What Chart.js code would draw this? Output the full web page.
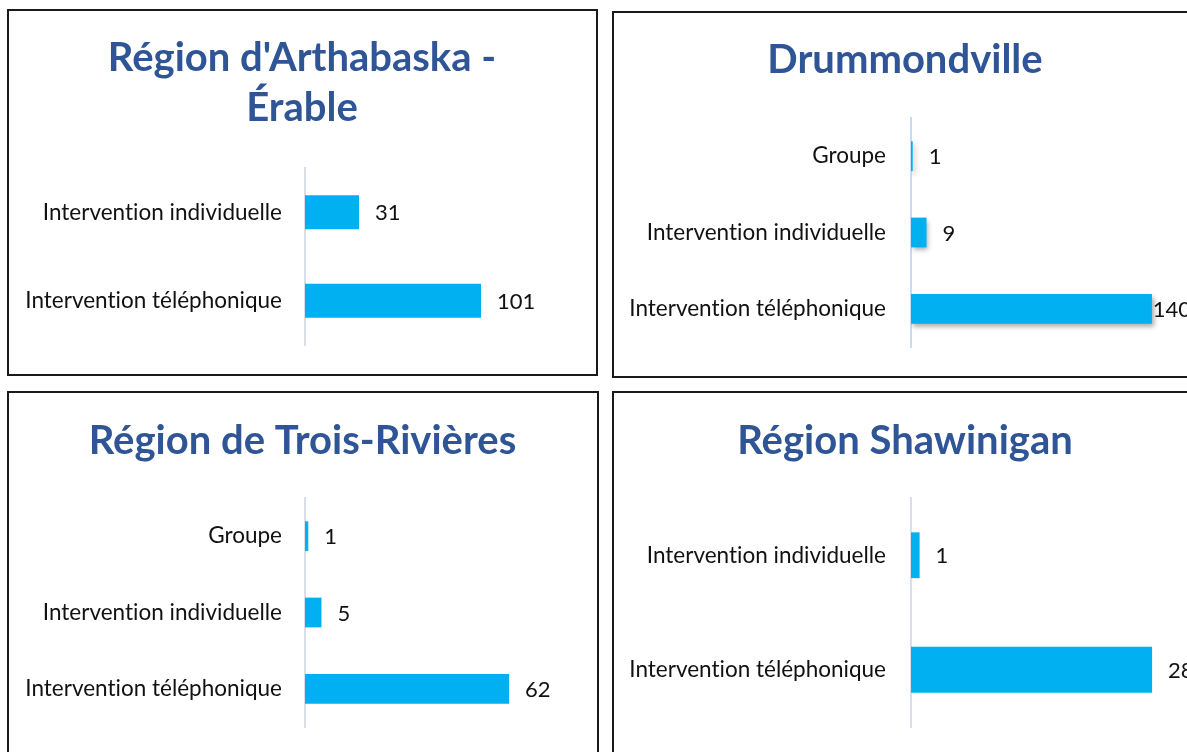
<!DOCTYPE html>
<html><head><meta charset="utf-8">
<script src="https://cdn.jsdelivr.net/npm/chart.js@4.4.1/dist/chart.umd.min.js"></script>
<style>
html,body{margin:0;padding:0;background:#fff;width:1187px;height:752px;overflow:hidden;position:relative}
.box{position:absolute;border:2px solid #1a1a1a;box-sizing:border-box;pointer-events:none}
.wrap{position:absolute}
</style></head><body>
<div class="wrap" style="left:9px;top:11px;width:586px;height:400px"><canvas id="c1"></canvas></div>
<div class="wrap" style="left:614px;top:13px;width:582px;height:400px"><canvas id="c2"></canvas></div>
<div class="wrap" style="left:9px;top:393px;width:587px;height:400px"><canvas id="c3"></canvas></div>
<div class="wrap" style="left:614px;top:393px;width:582px;height:400px"><canvas id="c4"></canvas></div>
<div class="box" style="left:7px;top:9px;width:591px;height:367px"></div>
<div class="box" style="left:612px;top:11px;width:600px;height:367px"></div>
<div class="box" style="left:7px;top:391px;width:592px;height:400px"></div>
<div class="box" style="left:612px;top:391px;width:600px;height:400px"></div>
<script>
// ---- data ----
const titleArthabaska = ["Région d'Arthabaska -", "Érable"];
const catsArthabaska = ["Intervention individuelle", "Intervention téléphonique"];
const valsArthabaska = [31, 101];

const titleDrummond = "Drummondville";
const catsDrummond = ["Groupe", "Intervention individuelle", "Intervention téléphonique"];
const valsDrummond = [1, 9, 140];

const titleTrois = "Région de Trois-Rivières";
const catsTrois = ["Groupe", "Intervention individuelle", "Intervention téléphonique"];
const valsTrois = [1, 5, 62];

const titleShawi = "Région Shawinigan";
const catsShawi = ["Intervention individuelle", "Intervention téléphonique"];
const valsShawi = [1, 28];

const BAR = '#00B0F0', TITLE = '#2F5597';
const FONT = "Lato, 'Open Sans', sans-serif";

const noLig = {
  id: 'noLig',
  beforeDraw(chart) { try { chart.ctx.textRendering = 'optimizeSpeed'; } catch (e) {} }
};
const barShadow = {
  id: 'barShadow',
  beforeDatasetsDraw(chart, args, opts) {
    if (!opts.on) return;
    const c = chart.ctx;
    c.save();
    c.shadowColor = 'rgba(0,0,0,0.35)';
    c.shadowBlur = 5;
    c.shadowOffsetX = 2;
    c.shadowOffsetY = 3;
  },
  afterDatasetsDraw(chart, args, opts) {
    if (!opts.on) return;
    chart.ctx.restore();
  }
};
const valueLabels = {
  id: 'valueLabels',
  afterDatasetsDraw(chart, args, opts) {
    const ctx = chart.ctx;
    const meta = chart.getDatasetMeta(0);
    ctx.save();
    ctx.font = `${opts.size}px ${FONT}`;
    ctx.fillStyle = '#111';
    ctx.textBaseline = 'middle';
    ctx.textAlign = 'left';
    meta.data.forEach((bar, i) => {
      const txt = String(chart.data.datasets[0].data[i]);
      let x = bar.x + opts.gap;
      if (opts.clampRight) x = Math.min(x, opts.clampRight - ctx.measureText(txt).width);
      ctx.fillText(txt, x, bar.y + 1);
    });
    ctx.restore();
  }
};

function make(id, title, cats, vals, cfg) {
  return new Chart(document.getElementById(id), {
    type: 'bar',
    data: { labels: cats, datasets: [{ data: vals, backgroundColor: BAR,
      barPercentage: cfg.barPct, categoryPercentage: 1 }] },
    plugins: [noLig, barShadow, valueLabels],
    options: {
      indexAxis: 'y', responsive: true, maintainAspectRatio: false, animation: false,
      layout: { padding: { left: 0, top: 0, right: 0, bottom: cfg.padBottom } },
      plugins: {
        legend: { display: false }, tooltip: { enabled: false },
        title: { display: true, text: title, color: TITLE,
          font: { family: FONT, size: 40, weight: 'bold', lineHeight: 50/40 },
          padding: { top: cfg.tTop, bottom: cfg.tBottom } },
        valueLabels: { size: 22, gap: 16, clampRight: cfg.clampRight || 0 },
        barShadow: { on: !!cfg.shadow }
      },
      scales: {
        x: { display: false, min: 0, max: cfg.max },
        y: {
          afterFit(s) { s.width = cfg.axisW; },
          grid: { display: false, drawTicks: false },
          border: { display: true, color: cfg.axisColor, width: 2 },
          ticks: { color: '#111', padding: cfg.tickPad, font: { family: FONT, size: 22.5 } }
        }
      }
    }
  });
}

make('c1', titleArthabaska, catsArthabaska, valsArthabaska,
  { barPct: 0.384, padBottom: 66, tTop: 22, tBottom: 35, max: 166.4, axisW: 296, tickPad: 23, axisColor: '#D9DEE8' });
make('c2', titleDrummond, catsDrummond, valsDrummond,
  { barPct: 0.39, padBottom: 66, tTop: 22, tBottom: 33, max: 165.6, axisW: 297, tickPad: 25, axisColor: '#C9DAF2', shadow: true, clampRight: 577 });
make('c3', titleTrois, catsTrois, valsTrois,
  { barPct: 0.39, padBottom: 66, tTop: 23, tBottom: 32, max: 88.4, axisW: 296, tickPad: 23, axisColor: '#D9DEE8' });
make('c4', titleShawi, catsShawi, valsShawi,
  { barPct: 0.40, padBottom: 66, tTop: 23, tBottom: 32, max: 33.1, axisW: 297, tickPad: 25, axisColor: '#D9DEE8' });
</script>
</body></html>
